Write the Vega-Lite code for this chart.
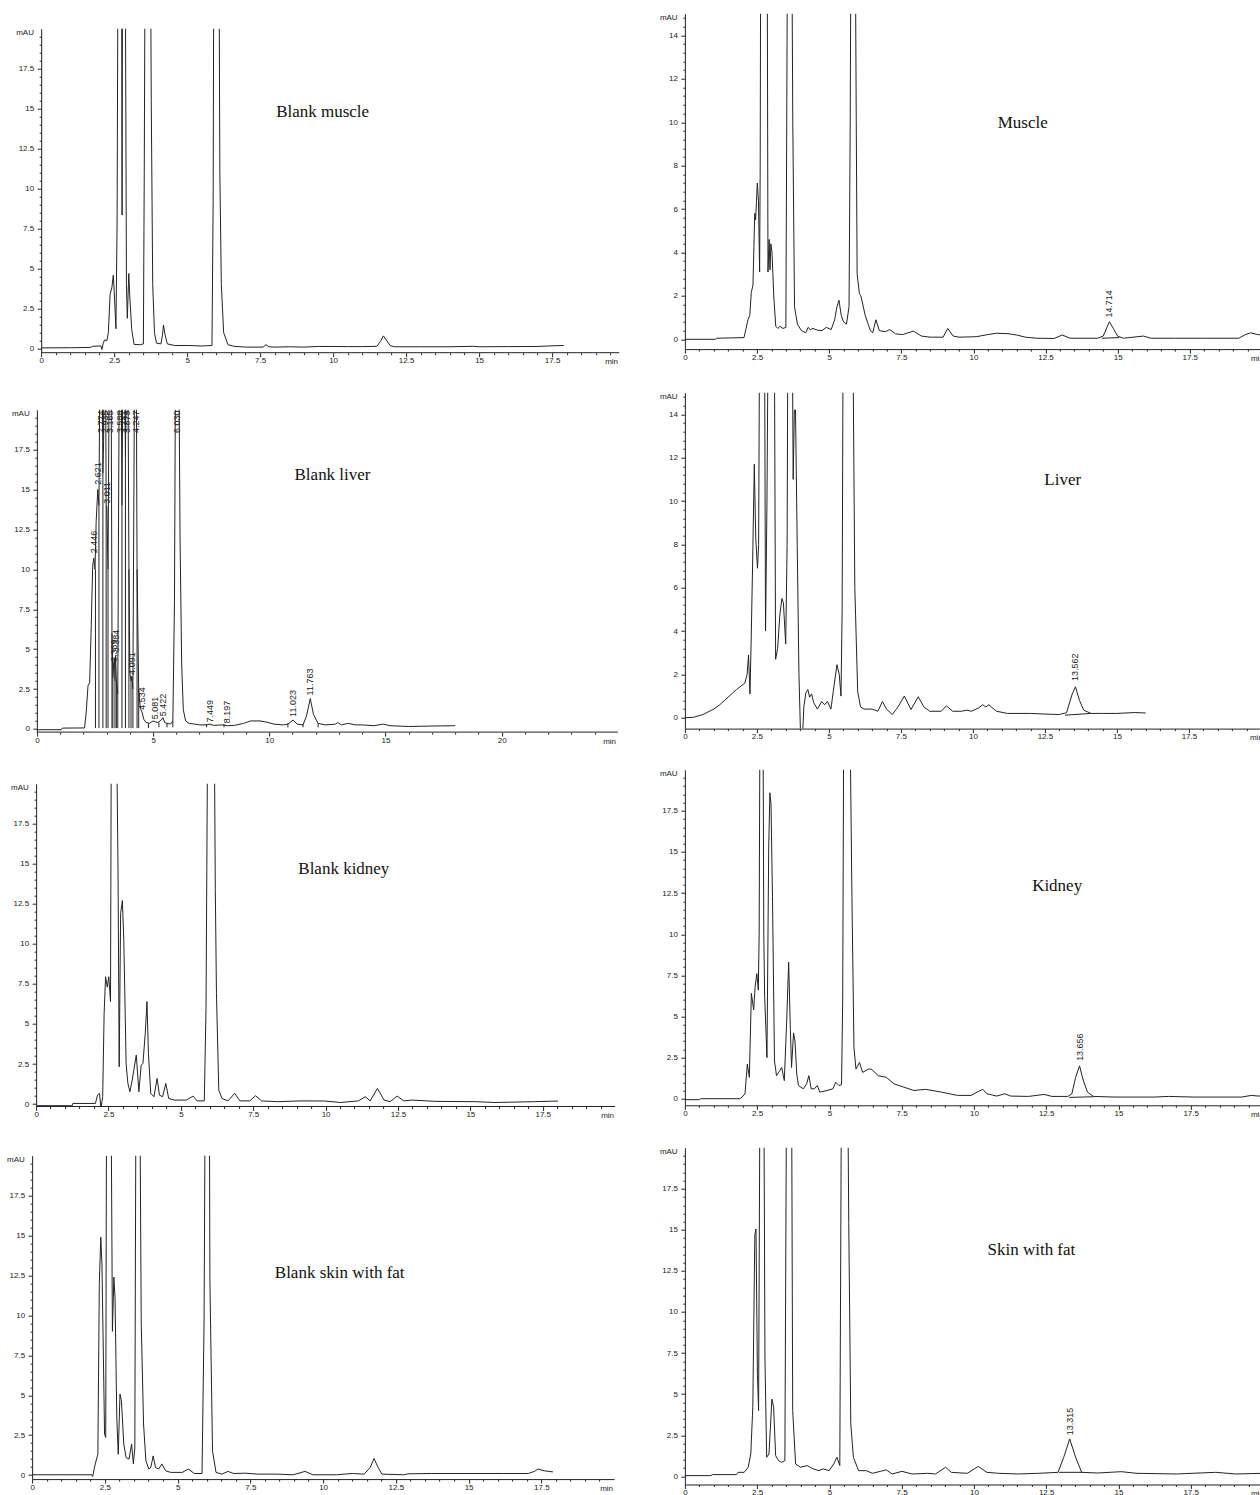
{
"$schema": "https://vega.github.io/schema/vega-lite/v6.json",
"background": "white",
"padding": {"left": 6.1, "top": 9.7, "right": 0, "bottom": 0},
"config": {
 "view": {"stroke": null},
 "axis": {"grid": false, "labelFont": "Liberation Sans", "labelFontSize": 8, "labelColor": "#222", "titleFont": "Liberation Sans", "titleFontSize": 8, "titleFontWeight": "normal", "titleColor": "#222", "domainColor": "#222", "tickColor": "#222", "labelOverlap": false, "labelFlush": false},
 "axisX": {"labelPadding": 0},
 "axisY": {"labelPadding": 3.5}
},
"datasets": {
 "bm": [{"t":0,"a":0.05},{"t":1.0,"a":0.06},{"t":1.7,"a":0.08},{"t":1.75,"a":0.15},{"t":2.05,"a":0.17},{"t":2.08,"a":-0.05},{"t":2.12,"a":0.3},{"t":2.17,"a":0.55},{"t":2.25,"a":0.5},{"t":2.3,"a":1.0},{"t":2.36,"a":3.4},{"t":2.42,"a":3.8},{"t":2.47,"a":4.6},{"t":2.5,"a":3.6},{"t":2.56,"a":1.25},{"t":2.6,"a":8},{"t":2.64,"a":30},{"t":2.75,"a":30},{"t":2.77,"a":8.35},{"t":2.79,"a":30},{"t":2.87,"a":30},{"t":2.92,"a":4},{"t":2.95,"a":1.9},{"t":3.0,"a":4.7},{"t":3.03,"a":3.4},{"t":3.1,"a":1.2},{"t":3.18,"a":0.27},{"t":3.4,"a":0.25},{"t":3.5,"a":0.3},{"t":3.53,"a":11},{"t":3.57,"a":30},{"t":3.73,"a":30},{"t":3.77,"a":15.5},{"t":3.82,"a":4},{"t":3.88,"a":1.0},{"t":3.95,"a":0.35},{"t":4.1,"a":0.3},{"t":4.15,"a":0.8},{"t":4.19,"a":1.48},{"t":4.24,"a":0.9},{"t":4.32,"a":0.3},{"t":4.57,"a":0.2},{"t":5.0,"a":0.2},{"t":5.5,"a":0.17},{"t":5.85,"a":0.2},{"t":5.89,"a":9.2},{"t":5.92,"a":30},{"t":6.08,"a":30},{"t":6.12,"a":11},{"t":6.17,"a":4},{"t":6.25,"a":1},{"t":6.4,"a":0.25},{"t":6.6,"a":0.15},{"t":7.0,"a":0.1},{"t":7.6,"a":0.1},{"t":7.7,"a":0.25},{"t":7.8,"a":0.12},{"t":8.0,"a":0.1},{"t":8.5,"a":0.12},{"t":9.0,"a":0.1},{"t":9.5,"a":0.14},{"t":10,"a":0.14},{"t":10.5,"a":0.13},{"t":11.0,"a":0.13},{"t":11.5,"a":0.15},{"t":11.62,"a":0.45},{"t":11.72,"a":0.8},{"t":11.82,"a":0.55},{"t":11.95,"a":0.2},{"t":12.1,"a":0.12},{"t":13,"a":0.12},{"t":14,"a":0.12},{"t":14.8,"a":0.15},{"t":15.0,"a":0.12},{"t":16,"a":0.13},{"t":17,"a":0.14},{"t":17.5,"a":0.18},{"t":17.9,"a":0.2}],
 "m": [{"t":0,"a":0},{"t":1.05,"a":0},{"t":1.1,"a":0.05},{"t":2.05,"a":0.08},{"t":2.12,"a":0.5},{"t":2.19,"a":0.92},{"t":2.25,"a":1.1},{"t":2.3,"a":2.15},{"t":2.36,"a":2.5},{"t":2.42,"a":5.8},{"t":2.45,"a":5.5},{"t":2.48,"a":6.3},{"t":2.51,"a":7.2},{"t":2.55,"a":6.4},{"t":2.59,"a":3.1},{"t":2.61,"a":8},{"t":2.63,"a":20},{"t":2.85,"a":20},{"t":2.88,"a":3.1},{"t":2.92,"a":4.6},{"t":2.95,"a":3.2},{"t":2.98,"a":4.4},{"t":3.02,"a":4.0},{"t":3.08,"a":2.0},{"t":3.15,"a":0.6},{"t":3.22,"a":0.5},{"t":3.3,"a":0.6},{"t":3.4,"a":0.5},{"t":3.5,"a":0.55},{"t":3.53,"a":10},{"t":3.56,"a":20},{"t":3.7,"a":20},{"t":3.74,"a":10},{"t":3.8,"a":1.5},{"t":3.9,"a":0.7},{"t":4.04,"a":0.4},{"t":4.19,"a":0.3},{"t":4.27,"a":0.55},{"t":4.35,"a":0.45},{"t":4.44,"a":0.5},{"t":4.6,"a":0.42},{"t":4.75,"a":0.4},{"t":4.9,"a":0.55},{"t":5.07,"a":0.45},{"t":5.19,"a":0.9},{"t":5.27,"a":1.5},{"t":5.34,"a":1.8},{"t":5.42,"a":1.1},{"t":5.5,"a":0.8},{"t":5.6,"a":0.7},{"t":5.69,"a":1.5},{"t":5.73,"a":10},{"t":5.76,"a":20},{"t":5.9,"a":20},{"t":5.94,"a":10},{"t":5.97,"a":3},{"t":6.05,"a":2.1},{"t":6.1,"a":2.0},{"t":6.25,"a":1.1},{"t":6.43,"a":0.4},{"t":6.51,"a":0.3},{"t":6.62,"a":0.9},{"t":6.74,"a":0.4},{"t":6.95,"a":0.35},{"t":7.1,"a":0.45},{"t":7.3,"a":0.25},{"t":7.55,"a":0.22},{"t":7.92,"a":0.38},{"t":8.2,"a":0.15},{"t":8.5,"a":0.1},{"t":8.95,"a":0.1},{"t":9.11,"a":0.5},{"t":9.3,"a":0.15},{"t":9.5,"a":0.1},{"t":10.1,"a":0.12},{"t":10.5,"a":0.22},{"t":10.8,"a":0.28},{"t":11.2,"a":0.26},{"t":11.5,"a":0.2},{"t":11.8,"a":0.1},{"t":12.2,"a":0.05},{"t":12.8,"a":0.04},{"t":13.08,"a":0.2},{"t":13.35,"a":0.05},{"t":14.3,"a":0.05},{"t":14.5,"a":0.15},{"t":14.714,"a":0.81},{"t":14.85,"a":0.5},{"t":15.0,"a":0.15},{"t":15.2,"a":0.05},{"t":15.89,"a":0.15},{"t":16.16,"a":0.05},{"t":17,"a":0.05},{"t":18,"a":0.05},{"t":19.2,"a":0.05},{"t":19.4,"a":0.2},{"t":19.6,"a":0.3},{"t":19.85,"a":0.22},{"t":20,"a":0.2}],
 "bl": [{"t":0,"a":-0.05},{"t":1.05,"a":-0.05},{"t":1.1,"a":0.05},{"t":2.05,"a":0.06},{"t":2.12,"a":1.0},{"t":2.2,"a":2.7},{"t":2.27,"a":2.9},{"t":2.33,"a":6},{"t":2.4,"a":10.2},{"t":2.446,"a":10.7},{"t":2.5,"a":10.0},{"t":2.55,"a":13},{"t":2.621,"a":15.0},{"t":2.67,"a":14},{"t":2.72,"a":25},{"t":2.8,"a":25},{"t":2.84,"a":16},{"t":2.87,"a":18},{"t":2.89,"a":25},{"t":2.95,"a":25},{"t":2.98,"a":14},{"t":3.011,"a":13.9},{"t":3.06,"a":10},{"t":3.12,"a":25},{"t":3.19,"a":25},{"t":3.23,"a":6},{"t":3.27,"a":3.2},{"t":3.31,"a":4.2},{"t":3.339,"a":4.4},{"t":3.36,"a":3.0},{"t":3.384,"a":4.6},{"t":3.42,"a":3.0},{"t":3.48,"a":2.2},{"t":3.55,"a":25},{"t":3.62,"a":25},{"t":3.66,"a":14},{"t":3.71,"a":25},{"t":3.77,"a":25},{"t":3.81,"a":17},{"t":3.85,"a":25},{"t":3.91,"a":25},{"t":3.96,"a":10},{"t":4.0,"a":3.5},{"t":4.05,"a":3.0},{"t":4.091,"a":3.3},{"t":4.13,"a":2.5},{"t":4.21,"a":25},{"t":4.27,"a":25},{"t":4.31,"a":10},{"t":4.38,"a":2.5},{"t":4.45,"a":1.3},{"t":4.534,"a":1.0},{"t":4.6,"a":0.6},{"t":4.7,"a":0.4},{"t":4.85,"a":0.35},{"t":5.0,"a":0.5},{"t":5.081,"a":0.45},{"t":5.2,"a":0.4},{"t":5.35,"a":0.55},{"t":5.422,"a":0.7},{"t":5.5,"a":0.4},{"t":5.6,"a":0.35},{"t":5.75,"a":0.3},{"t":5.85,"a":0.5},{"t":5.92,"a":8},{"t":5.97,"a":25},{"t":6.1,"a":25},{"t":6.16,"a":12},{"t":6.23,"a":4},{"t":6.3,"a":1.2},{"t":6.4,"a":0.5},{"t":6.55,"a":0.35},{"t":6.8,"a":0.3},{"t":7.0,"a":0.25},{"t":7.3,"a":0.25},{"t":7.449,"a":0.3},{"t":7.6,"a":0.22},{"t":8.0,"a":0.25},{"t":8.197,"a":0.2},{"t":8.5,"a":0.22},{"t":8.9,"a":0.35},{"t":9.2,"a":0.5},{"t":9.6,"a":0.5},{"t":9.9,"a":0.42},{"t":10.2,"a":0.3},{"t":10.6,"a":0.25},{"t":10.8,"a":0.3},{"t":11.023,"a":0.55},{"t":11.2,"a":0.3},{"t":11.45,"a":0.25},{"t":11.6,"a":0.8},{"t":11.763,"a":1.9},{"t":11.9,"a":0.9},{"t":12.1,"a":0.35},{"t":12.4,"a":0.25},{"t":12.85,"a":0.3},{"t":12.95,"a":0.4},{"t":13.1,"a":0.25},{"t":13.4,"a":0.35},{"t":13.7,"a":0.25},{"t":14.0,"a":0.25},{"t":14.5,"a":0.2},{"t":14.9,"a":0.3},{"t":15.2,"a":0.2},{"t":16.0,"a":0.15},{"t":17.0,"a":0.18},{"t":18.0,"a":0.2}],
 "l": [{"t":0,"a":0},{"t":0.3,"a":0.02},{"t":0.63,"a":0.15},{"t":1.0,"a":0.4},{"t":1.21,"a":0.6},{"t":1.5,"a":0.95},{"t":1.79,"a":1.3},{"t":2.08,"a":1.6},{"t":2.16,"a":2.0},{"t":2.21,"a":2.9},{"t":2.26,"a":1.1},{"t":2.3,"a":3.5},{"t":2.35,"a":7},{"t":2.41,"a":11.7},{"t":2.46,"a":8.3},{"t":2.52,"a":6.9},{"t":2.56,"a":8},{"t":2.6,"a":20},{"t":2.76,"a":20},{"t":2.8,"a":4.0},{"t":2.85,"a":10},{"t":2.9,"a":20},{"t":3.1,"a":20},{"t":3.15,"a":2.7},{"t":3.22,"a":3.2},{"t":3.3,"a":4.8},{"t":3.37,"a":5.5},{"t":3.42,"a":5.3},{"t":3.5,"a":3.4},{"t":3.55,"a":8},{"t":3.58,"a":20},{"t":3.72,"a":20},{"t":3.76,"a":11},{"t":3.8,"a":14.2},{"t":3.84,"a":14.2},{"t":3.9,"a":8},{"t":3.96,"a":2},{"t":4.02,"a":-1},{"t":4.08,"a":-1},{"t":4.13,"a":0.5},{"t":4.2,"a":1.15},{"t":4.27,"a":1.3},{"t":4.33,"a":0.95},{"t":4.4,"a":1.1},{"t":4.47,"a":0.7},{"t":4.6,"a":0.4},{"t":4.75,"a":0.75},{"t":4.85,"a":0.6},{"t":4.95,"a":0.75},{"t":5.07,"a":0.4},{"t":5.15,"a":1.2},{"t":5.28,"a":2.45},{"t":5.36,"a":2.0},{"t":5.42,"a":1.0},{"t":5.46,"a":5},{"t":5.5,"a":20},{"t":5.82,"a":20},{"t":5.9,"a":6},{"t":6.0,"a":1.2},{"t":6.1,"a":0.5},{"t":6.22,"a":0.4},{"t":6.5,"a":0.4},{"t":6.7,"a":0.3},{"t":6.86,"a":0.75},{"t":7.0,"a":0.4},{"t":7.2,"a":0.15},{"t":7.4,"a":0.5},{"t":7.62,"a":1.0},{"t":7.85,"a":0.38},{"t":8.1,"a":0.97},{"t":8.3,"a":0.5},{"t":8.5,"a":0.3},{"t":8.9,"a":0.3},{"t":9.08,"a":0.55},{"t":9.3,"a":0.3},{"t":9.6,"a":0.3},{"t":9.79,"a":0.35},{"t":9.95,"a":0.3},{"t":10.2,"a":0.45},{"t":10.34,"a":0.6},{"t":10.45,"a":0.5},{"t":10.55,"a":0.6},{"t":10.82,"a":0.3},{"t":11.2,"a":0.2},{"t":12.0,"a":0.2},{"t":12.5,"a":0.17},{"t":13.0,"a":0.15},{"t":13.25,"a":0.23},{"t":13.45,"a":1.1},{"t":13.562,"a":1.43},{"t":13.7,"a":0.8},{"t":13.85,"a":0.35},{"t":14.1,"a":0.2},{"t":14.5,"a":0.2},{"t":15.0,"a":0.2},{"t":15.6,"a":0.24},{"t":16.0,"a":0.22}],
 "bk": [{"t":0,"a":-0.1},{"t":1.25,"a":-0.1},{"t":1.27,"a":0.04},{"t":2.05,"a":0.04},{"t":2.12,"a":0.56},{"t":2.19,"a":0.67},{"t":2.24,"a":-0.27},{"t":2.3,"a":0.46},{"t":2.35,"a":5.66},{"t":2.4,"a":7.95},{"t":2.46,"a":7.3},{"t":2.51,"a":7.95},{"t":2.57,"a":6.4},{"t":2.6,"a":25},{"t":2.77,"a":25},{"t":2.83,"a":14.6},{"t":2.87,"a":2.33},{"t":2.92,"a":11.9},{"t":2.98,"a":12.7},{"t":3.03,"a":10.2},{"t":3.11,"a":2.5},{"t":3.17,"a":1.3},{"t":3.24,"a":0.77},{"t":3.32,"a":1.5},{"t":3.46,"a":3.06},{"t":3.55,"a":0.77},{"t":3.63,"a":2.43},{"t":3.69,"a":2.54},{"t":3.77,"a":4.4},{"t":3.83,"a":6.4},{"t":3.88,"a":3.16},{"t":3.96,"a":0.67},{"t":4.07,"a":0.46},{"t":4.18,"a":1.6},{"t":4.26,"a":0.56},{"t":4.37,"a":0.46},{"t":4.48,"a":1.29},{"t":4.58,"a":0.35},{"t":4.78,"a":0.25},{"t":5.19,"a":0.25},{"t":5.42,"a":0.5},{"t":5.56,"a":0.2},{"t":5.81,"a":0.2},{"t":5.87,"a":6.1},{"t":5.93,"a":25},{"t":6.15,"a":25},{"t":6.19,"a":13.4},{"t":6.23,"a":6.9},{"t":6.31,"a":0.87},{"t":6.42,"a":0.35},{"t":6.63,"a":0.2},{"t":6.86,"a":0.67},{"t":7.04,"a":0.2},{"t":7.38,"a":0.2},{"t":7.58,"a":0.52},{"t":7.79,"a":0.2},{"t":8.33,"a":0.15},{"t":9.15,"a":0.2},{"t":9.97,"a":0.19},{"t":10.52,"a":0.1},{"t":11.13,"a":0.2},{"t":11.37,"a":0.46},{"t":11.54,"a":0.2},{"t":11.79,"a":0.98},{"t":12.02,"a":0.25},{"t":12.23,"a":0.15},{"t":12.47,"a":0.5},{"t":12.7,"a":0.2},{"t":12.98,"a":0.25},{"t":13.8,"a":0.17},{"t":15.16,"a":0.15},{"t":15.85,"a":0.1},{"t":17.21,"a":0.15},{"t":18.03,"a":0.19}],
 "k": [{"t":0,"a":-0.06},{"t":0.5,"a":-0.06},{"t":0.55,"a":0.0},{"t":1.9,"a":0.0},{"t":1.98,"a":0.1},{"t":2.08,"a":0.3},{"t":2.16,"a":2.1},{"t":2.23,"a":1.3},{"t":2.3,"a":6.4},{"t":2.38,"a":5.4},{"t":2.43,"a":6.8},{"t":2.49,"a":7.6},{"t":2.54,"a":6.6},{"t":2.57,"a":10},{"t":2.6,"a":25},{"t":2.7,"a":25},{"t":2.73,"a":10},{"t":2.76,"a":6.2},{"t":2.84,"a":2.5},{"t":2.9,"a":15.3},{"t":2.94,"a":18.6},{"t":2.98,"a":17.9},{"t":3.03,"a":12.3},{"t":3.1,"a":2.3},{"t":3.17,"a":1.4},{"t":3.28,"a":1.7},{"t":3.35,"a":1.9},{"t":3.44,"a":1.1},{"t":3.52,"a":4.6},{"t":3.59,"a":8.3},{"t":3.65,"a":4.2},{"t":3.69,"a":1.9},{"t":3.76,"a":4.0},{"t":3.81,"a":3.5},{"t":3.87,"a":1.5},{"t":3.93,"a":0.8},{"t":4.1,"a":0.6},{"t":4.21,"a":0.9},{"t":4.29,"a":1.4},{"t":4.37,"a":0.6},{"t":4.48,"a":0.6},{"t":4.58,"a":0.8},{"t":4.67,"a":0.4},{"t":4.92,"a":0.5},{"t":5.12,"a":0.6},{"t":5.22,"a":1.0},{"t":5.33,"a":0.8},{"t":5.42,"a":0.85},{"t":5.46,"a":6},{"t":5.5,"a":25},{"t":5.7,"a":25},{"t":5.78,"a":12.3},{"t":5.85,"a":3.1},{"t":5.92,"a":1.8},{"t":6.04,"a":2.2},{"t":6.15,"a":1.6},{"t":6.35,"a":1.8},{"t":6.45,"a":1.8},{"t":6.69,"a":1.4},{"t":6.97,"a":1.3},{"t":7.24,"a":0.9},{"t":7.58,"a":0.7},{"t":7.92,"a":0.5},{"t":8.33,"a":0.57},{"t":8.88,"a":0.4},{"t":9.43,"a":0.2},{"t":9.9,"a":0.2},{"t":10.11,"a":0.4},{"t":10.31,"a":0.57},{"t":10.45,"a":0.3},{"t":10.79,"a":0.16},{"t":11.07,"a":0.3},{"t":11.27,"a":0.16},{"t":11.89,"a":0.14},{"t":12.43,"a":0.26},{"t":12.7,"a":0.14},{"t":13.25,"a":0.14},{"t":13.39,"a":0.3},{"t":13.52,"a":1.3},{"t":13.656,"a":2.0},{"t":13.77,"a":1.2},{"t":13.93,"a":0.4},{"t":14.14,"a":0.14},{"t":14.89,"a":0.1},{"t":16.26,"a":0.1},{"t":16.73,"a":0.14},{"t":17.62,"a":0.1},{"t":19.26,"a":0.1},{"t":19.6,"a":0.2},{"t":20,"a":0.14}],
 "bs": [{"t":0,"a":0.02},{"t":2.05,"a":0.02},{"t":2.08,"a":-0.08},{"t":2.17,"a":0.7},{"t":2.26,"a":1.3},{"t":2.31,"a":12},{"t":2.36,"a":14.9},{"t":2.4,"a":13.2},{"t":2.45,"a":7.4},{"t":2.49,"a":2.57},{"t":2.53,"a":2.36},{"t":2.56,"a":25},{"t":2.71,"a":25},{"t":2.76,"a":9.0},{"t":2.81,"a":12.4},{"t":2.85,"a":11.1},{"t":2.91,"a":3.6},{"t":2.96,"a":1.3},{"t":3.02,"a":5.07},{"t":3.07,"a":4.65},{"t":3.15,"a":1.94},{"t":3.23,"a":1.1},{"t":3.33,"a":1.0},{"t":3.42,"a":1.94},{"t":3.48,"a":0.7},{"t":3.53,"a":1.7},{"t":3.57,"a":25},{"t":3.7,"a":25},{"t":3.75,"a":9.5},{"t":3.83,"a":3.2},{"t":3.91,"a":0.9},{"t":4.01,"a":0.38},{"t":4.08,"a":0.48},{"t":4.16,"a":1.2},{"t":4.24,"a":0.48},{"t":4.35,"a":0.38},{"t":4.46,"a":0.7},{"t":4.59,"a":0.27},{"t":4.76,"a":0.17},{"t":5.16,"a":0.17},{"t":5.37,"a":0.38},{"t":5.57,"a":0.1},{"t":5.84,"a":0.1},{"t":5.91,"a":9.7},{"t":5.95,"a":25},{"t":6.09,"a":25},{"t":6.11,"a":12.2},{"t":6.2,"a":1.5},{"t":6.32,"a":0.17},{"t":6.52,"a":0.06},{"t":6.73,"a":0.23},{"t":6.93,"a":0.1},{"t":7.34,"a":0.12},{"t":7.74,"a":0.06},{"t":8.42,"a":0.06},{"t":8.97,"a":0.02},{"t":9.38,"a":0.23},{"t":9.65,"a":0.02},{"t":10.46,"a":0.02},{"t":11.0,"a":0.1},{"t":11.41,"a":0.06},{"t":11.62,"a":0.48},{"t":11.75,"a":1.04},{"t":11.89,"a":0.48},{"t":12.02,"a":0.06},{"t":12.77,"a":0.02},{"t":12.91,"a":0.08},{"t":13.72,"a":0.1},{"t":14.67,"a":0.1},{"t":16.17,"a":0.1},{"t":17.05,"a":0.1},{"t":17.26,"a":0.23},{"t":17.39,"a":0.38},{"t":17.6,"a":0.27},{"t":17.9,"a":0.2}],
 "s": [{"t":0,"a":0.04},{"t":0.9,"a":0.04},{"t":0.95,"a":0.1},{"t":1.78,"a":0.1},{"t":1.84,"a":0.24},{"t":2.05,"a":0.24},{"t":2.19,"a":0.55},{"t":2.28,"a":1.36},{"t":2.35,"a":4.2},{"t":2.42,"a":14.7},{"t":2.46,"a":15.05},{"t":2.51,"a":6.2},{"t":2.55,"a":4.0},{"t":2.6,"a":25},{"t":2.73,"a":25},{"t":2.77,"a":7.2},{"t":2.83,"a":1.16},{"t":2.91,"a":1.36},{"t":3.01,"a":4.7},{"t":3.07,"a":4.2},{"t":3.14,"a":1.26},{"t":3.24,"a":0.95},{"t":3.35,"a":0.85},{"t":3.46,"a":0.95},{"t":3.52,"a":25},{"t":3.69,"a":25},{"t":3.73,"a":4.0},{"t":3.83,"a":0.75},{"t":4.0,"a":0.55},{"t":4.23,"a":0.65},{"t":4.44,"a":0.45},{"t":4.64,"a":0.34},{"t":4.78,"a":0.45},{"t":4.99,"a":0.34},{"t":5.15,"a":0.75},{"t":5.26,"a":1.16},{"t":5.36,"a":0.65},{"t":5.42,"a":25},{"t":5.63,"a":25},{"t":5.67,"a":15.4},{"t":5.74,"a":3.2},{"t":5.83,"a":1.16},{"t":6.01,"a":0.34},{"t":6.28,"a":0.34},{"t":6.49,"a":0.18},{"t":6.76,"a":0.3},{"t":6.97,"a":0.39},{"t":7.17,"a":0.14},{"t":7.51,"a":0.3},{"t":7.86,"a":0.14},{"t":8.4,"a":0.18},{"t":8.67,"a":0.14},{"t":9.02,"a":0.55},{"t":9.22,"a":0.24},{"t":9.77,"a":0.18},{"t":10.15,"a":0.6},{"t":10.45,"a":0.24},{"t":10.86,"a":0.18},{"t":11.54,"a":0.14},{"t":12.23,"a":0.18},{"t":12.91,"a":0.24},{"t":13.11,"a":1.16},{"t":13.315,"a":2.27},{"t":13.52,"a":1.16},{"t":13.73,"a":0.24},{"t":14.28,"a":0.2},{"t":15.1,"a":0.28},{"t":15.64,"a":0.18},{"t":17.01,"a":0.14},{"t":18.37,"a":0.24},{"t":19.06,"a":0.14},{"t":20,"a":0.18}]
},
"hconcat": [
 {"vconcat": [
  {"width": 1, "height": 16.3, "data": {"values": [{"k": 0}]}, "mark": {"type": "point", "opacity": 0}, "encoding": {}},
  {"width": 587.1, "height": 324, "data": {"name": "bm"},
   "resolve": {"axis": {"x": "independent", "y": "independent"}},
   "layer": [
    {"mark": {"type": "line", "clip": true, "color": "#222", "strokeWidth": 1},
     "encoding": {
      "x": {"field": "t", "type": "quantitative", "scale": {"domain": [-0.3119, 19.8], "nice": false, "zero": false}, "axis": {"orient": "bottom", "values": [0,2.5,5,7.5,10,12.5,15,17.5], "format": ".3~g", "tickSize": 4, "domain": false, "title": "min", "titleX": 579, "titleY": 9, "titleAlign": "center", "titleBaseline": "middle"}},
      "y": {"field": "a", "type": "quantitative", "scale": {"domain": [-0.25, 20], "nice": false, "zero": false}, "axis": {"orient": "left", "offset": -9.1, "values": [0,2.5,5,7.5,10,12.5,15,17.5], "format": ".3~g", "tickSize": 4, "title": "mAU", "titleAngle": 0, "titleX": -25.5, "titleY": 4, "titleAlign": "left", "titleBaseline": "middle"}}}},
    {"mark": {"type": "point", "opacity": 0, "clip": true},
     "encoding": {
      "x": {"field": "t", "type": "quantitative", "axis": {"orient": "bottom", "values": [0.5,1,1.5,2,3,3.5,4,4.5,5.5,6,6.5,7,8,8.5,9,9.5,10.5,11,11.5,12,13,13.5,14,14.5,15.5,16,16.5,17,18,18.5,19,19.5], "labels": false, "tickSize": 2, "domain": false, "title": null}},
      "y": {"field": "a", "type": "quantitative", "axis": {"orient": "left", "offset": -9.1, "values": [0.5,1,1.5,2,3,3.5,4,4.5,5.5,6,6.5,7,8,8.5,9,9.5,10.5,11,11.5,12,13,13.5,14,14.5,15.5,16,16.5,17,18,18.5,19,19.5], "labels": false, "tickSize": 2, "domain": false, "title": null}}}},
    {"data": {"values": [{"t": 0, "t2": 19.8, "a": -0.25}]},
     "mark": {"type": "rule", "color": "#222", "strokeWidth": 1},
     "encoding": {"x": {"field": "t", "type": "quantitative", "axis": null}, "x2": {"field": "t2"}, "y": {"field": "a", "type": "quantitative", "axis": null}}},
    {"data": {"values": [{"t": 9.64, "a": 14.77, "txt": "Blank muscle"}]},
     "mark": {"type": "text", "font": "Liberation Serif", "fontSize": 17, "color": "#111"},
     "encoding": {"x": {"field": "t", "type": "quantitative", "axis": null}, "y": {"field": "a", "type": "quantitative", "axis": null}, "text": {"field": "txt"}}}
   ]},
  {"width": 1, "height": 56.7, "data": {"values": [{"k": 0}]}, "mark": {"type": "point", "opacity": 0}, "encoding": {}},
  {"width": 585.8, "height": 322.4, "data": {"name": "bl"},
   "resolve": {"axis": {"x": "independent", "y": "independent"}},
   "layer": [
    {"mark": {"type": "line", "clip": true, "color": "#222", "strokeWidth": 1},
     "encoding": {
      "x": {"field": "t", "type": "quantitative", "scale": {"domain": [-0.2065, 25], "nice": false, "zero": false}, "axis": {"orient": "bottom", "values": [0,5,10,15,20], "format": ".3~g", "tickSize": 4, "domain": false, "title": "min", "titleX": 577, "titleY": 9, "titleAlign": "center", "titleBaseline": "middle"}},
      "y": {"field": "a", "type": "quantitative", "scale": {"domain": [-0.2, 20], "nice": false, "zero": false}, "axis": {"orient": "left", "offset": -4.8, "values": [0,2.5,5,7.5,10,12.5,15,17.5], "format": ".3~g", "tickSize": 4, "title": "mAU", "titleAngle": 0, "titleX": -25.5, "titleY": 4, "titleAlign": "left", "titleBaseline": "middle"}}}},
    {"mark": {"type": "point", "opacity": 0, "clip": true},
     "encoding": {
      "x": {"field": "t", "type": "quantitative", "axis": {"orient": "bottom", "values": [1,2,3,4,6,7,8,9,11,12,13,14,16,17,18,19,21,22,23,24], "labels": false, "tickSize": 2, "domain": false, "title": null}},
      "y": {"field": "a", "type": "quantitative", "axis": {"orient": "left", "offset": -4.8, "values": [0.5,1,1.5,2,3,3.5,4,4.5,5.5,6,6.5,7,8,8.5,9,9.5,10.5,11,11.5,12,13,13.5,14,14.5,15.5,16,16.5,17,18,18.5,19,19.5], "labels": false, "tickSize": 2, "domain": false, "title": null}}}},
    {"data": {"values": [{"t": 0, "t2": 25, "a": -0.2}]},
     "mark": {"type": "rule", "color": "#222", "strokeWidth": 1},
     "encoding": {"x": {"field": "t", "type": "quantitative", "axis": null}, "x2": {"field": "t2"}, "y": {"field": "a", "type": "quantitative", "axis": null}}},
    {"data": {"values": [{"t":2.52,"a":0.05,"b":10.0},{"t":2.67,"a":0.05,"b":14},{"t":2.84,"a":0.05,"b":16},{"t":2.98,"a":0.05,"b":14},{"t":3.06,"a":0.05,"b":10},{"t":3.23,"a":0.05,"b":6},{"t":3.27,"a":0.05,"b":3.2},{"t":3.36,"a":0.05,"b":3.0},{"t":3.42,"a":0.05,"b":3.0},{"t":3.48,"a":0.05,"b":2.2},{"t":3.66,"a":0.05,"b":14},{"t":3.81,"a":0.05,"b":17},{"t":3.96,"a":0.05,"b":10},{"t":4.05,"a":0.05,"b":3.0},{"t":4.13,"a":0.05,"b":2.5},{"t":4.31,"a":0.05,"b":10},{"t":4.38,"a":0.05,"b":2.5},{"t":4.8,"a":0.05,"b":0.35},{"t":5.25,"a":0.1,"b":0.4},{"t":5.6,"a":0.1,"b":0.35},{"t":5.85,"a":0.1,"b":0.5},{"t":7.3,"a":0.1,"b":0.3},{"t":8.05,"a":0.1,"b":0.3},{"t":10.8,"a":0.1,"b":0.35},{"t":11.45,"a":0.1,"b":0.3},{"t":12.1,"a":0.1,"b":0.35}]},
     "mark": {"type": "rule", "clip": true, "color": "#222", "strokeWidth": 1},
     "encoding": {"x": {"field": "t", "type": "quantitative", "axis": null}, "y": {"field": "a", "type": "quantitative", "axis": null}, "y2": {"field": "b"}}},
    {"data": {"values": [{"t":2.446,"a":11.0,"txt":"2.446"},{"t":2.621,"a":15.3,"txt":"2.621"},{"t":3.011,"a":14.1,"txt":"3.011"},{"t":3.339,"a":4.2,"txt":"3.339"},{"t":3.384,"a":4.8,"txt":"3.384"},{"t":4.091,"a":3.4,"txt":"4.091"},{"t":4.534,"a":1.2,"txt":"4.534"},{"t":5.081,"a":0.6,"txt":"5.081"},{"t":5.422,"a":0.8,"txt":"5.422"},{"t":7.449,"a":0.4,"txt":"7.449"},{"t":8.197,"a":0.35,"txt":"8.197"},{"t":11.023,"a":0.75,"txt":"11.023"},{"t":11.763,"a":2.1,"txt":"11.763"}]},
     "mark": {"type": "text", "angle": 270, "align": "left", "baseline": "middle", "font": "Liberation Sans", "fontSize": 9, "color": "#222"},
     "encoding": {"x": {"field": "t", "type": "quantitative", "axis": null}, "y": {"field": "a", "type": "quantitative", "axis": null}, "text": {"field": "txt"}}},
    {"data": {"values": [{"t":2.774,"a":19.95,"txt":"2.774"},{"t":2.935,"a":19.95,"txt":"2.935"},{"t":3.165,"a":19.95,"txt":"3.165"},{"t":3.588,"a":19.95,"txt":"3.588"},{"t":3.741,"a":19.95,"txt":"3.741"},{"t":3.879,"a":19.95,"txt":"3.879"},{"t":4.247,"a":19.95,"txt":"4.247"},{"t":6.03,"a":19.95,"txt":"6.030"}]},
     "mark": {"type": "text", "angle": 270, "align": "right", "baseline": "middle", "font": "Liberation Sans", "fontSize": 9, "color": "#222"},
     "encoding": {"x": {"field": "t", "type": "quantitative", "axis": null}, "y": {"field": "a", "type": "quantitative", "axis": null}, "text": {"field": "txt"}}},
    {"data": {"values": [{"t": 12.72, "a": 15.89, "txt": "Blank liver"}]},
     "mark": {"type": "text", "font": "Liberation Serif", "fontSize": 17, "color": "#111"},
     "encoding": {"x": {"field": "t", "type": "quantitative", "axis": null}, "y": {"field": "a", "type": "quantitative", "axis": null}, "text": {"field": "txt"}}}
   ]},
  {"width": 1, "height": 50.9, "data": {"values": [{"k": 0}]}, "mark": {"type": "point", "opacity": 0}, "encoding": {}},
  {"width": 583, "height": 322.8, "data": {"name": "bk"},
   "resolve": {"axis": {"x": "independent", "y": "independent"}},
   "layer": [
    {"mark": {"type": "line", "clip": true, "color": "#222", "strokeWidth": 1},
     "encoding": {
      "x": {"field": "t", "type": "quantitative", "scale": {"domain": [-0.1382, 20], "nice": false, "zero": false}, "axis": {"orient": "bottom", "values": [0,2.5,5,7.5,10,12.5,15,17.5], "format": ".3~g", "tickSize": 4, "domain": false, "title": "min", "titleX": 575, "titleY": 9, "titleAlign": "center", "titleBaseline": "middle"}},
      "y": {"field": "a", "type": "quantitative", "scale": {"domain": [-0.15, 20], "nice": false, "zero": false}, "axis": {"orient": "left", "offset": -4.0, "values": [0,2.5,5,7.5,10,12.5,15,17.5], "format": ".3~g", "tickSize": 4, "title": "mAU", "titleAngle": 0, "titleX": -25.5, "titleY": 4, "titleAlign": "left", "titleBaseline": "middle"}}}},
    {"mark": {"type": "point", "opacity": 0, "clip": true},
     "encoding": {
      "x": {"field": "t", "type": "quantitative", "axis": {"orient": "bottom", "values": [0.5,1,1.5,2,3,3.5,4,4.5,5.5,6,6.5,7,8,8.5,9,9.5,10.5,11,11.5,12,13,13.5,14,14.5,15.5,16,16.5,17,18,18.5,19,19.5], "labels": false, "tickSize": 2, "domain": false, "title": null}},
      "y": {"field": "a", "type": "quantitative", "axis": {"orient": "left", "offset": -4.0, "values": [0.5,1,1.5,2,3,3.5,4,4.5,5.5,6,6.5,7,8,8.5,9,9.5,10.5,11,11.5,12,13,13.5,14,14.5,15.5,16,16.5,17,18,18.5,19,19.5], "labels": false, "tickSize": 2, "domain": false, "title": null}}}},
    {"data": {"values": [{"t": 0, "t2": 20, "a": -0.15}]},
     "mark": {"type": "rule", "color": "#222", "strokeWidth": 1},
     "encoding": {"x": {"field": "t", "type": "quantitative", "axis": null}, "x2": {"field": "t2"}, "y": {"field": "a", "type": "quantitative", "axis": null}}},
    {"data": {"values": [{"t": 10.63, "a": 14.65, "txt": "Blank kidney"}]},
     "mark": {"type": "text", "font": "Liberation Serif", "fontSize": 17, "color": "#111"},
     "encoding": {"x": {"field": "t", "type": "quantitative", "axis": null}, "y": {"field": "a", "type": "quantitative", "axis": null}, "text": {"field": "txt"}}}
   ]},
  {"width": 1, "height": 48.9, "data": {"values": [{"k": 0}]}, "mark": {"type": "point", "opacity": 0}, "encoding": {}},
  {"width": 582, "height": 323.4, "data": {"name": "bs"},
   "resolve": {"axis": {"x": "independent", "y": "independent"}},
   "layer": [
    {"mark": {"type": "line", "clip": true, "color": "#222", "strokeWidth": 1},
     "encoding": {
      "x": {"field": "t", "type": "quantitative", "scale": {"domain": [0, 20], "nice": false, "zero": false}, "axis": {"orient": "bottom", "values": [0,2.5,5,7.5,10,12.5,15,17.5], "format": ".3~g", "tickSize": 4, "title": "min", "titleX": 574, "titleY": 9, "titleAlign": "center", "titleBaseline": "middle"}},
      "y": {"field": "a", "type": "quantitative", "scale": {"domain": [-0.25, 20], "nice": false, "zero": false}, "axis": {"orient": "left", "values": [0,2.5,5,7.5,10,12.5,15,17.5], "format": ".3~g", "tickSize": 4, "title": "mAU", "titleAngle": 0, "titleX": -25.5, "titleY": 4, "titleAlign": "left", "titleBaseline": "middle"}}}},
    {"mark": {"type": "point", "opacity": 0, "clip": true},
     "encoding": {
      "x": {"field": "t", "type": "quantitative", "axis": {"orient": "bottom", "values": [0.5,1,1.5,2,3,3.5,4,4.5,5.5,6,6.5,7,8,8.5,9,9.5,10.5,11,11.5,12,13,13.5,14,14.5,15.5,16,16.5,17,18,18.5,19,19.5], "labels": false, "tickSize": 2, "domain": false, "title": null}},
      "y": {"field": "a", "type": "quantitative", "axis": {"orient": "left", "values": [0.5,1,1.5,2,3,3.5,4,4.5,5.5,6,6.5,7,8,8.5,9,9.5,10.5,11,11.5,12,13,13.5,14,14.5,15.5,16,16.5,17,18,18.5,19,19.5], "labels": false, "tickSize": 2, "domain": false, "title": null}}}},
    {"data": {"values": [{"t": 10.57, "a": 12.63, "txt": "Blank skin with fat"}]},
     "mark": {"type": "text", "font": "Liberation Serif", "fontSize": 17, "color": "#111"},
     "encoding": {"x": {"field": "t", "type": "quantitative", "axis": null}, "y": {"field": "a", "type": "quantitative", "axis": null}, "text": {"field": "txt"}}}
   ]}
 ], "spacing": 0, "bounds": "flush"},
 {"vconcat": [
  {"width": 1, "height": 2, "data": {"values": [{"k": 0}]}, "mark": {"type": "point", "opacity": 0}, "encoding": {}},
  {"width": 577, "height": 335.4, "data": {"name": "m"},
   "resolve": {"axis": {"x": "independent", "y": "independent"}},
   "layer": [
    {"mark": {"type": "line", "clip": true, "color": "#222", "strokeWidth": 1},
     "encoding": {
      "x": {"field": "t", "type": "quantitative", "scale": {"domain": [0, 20], "nice": false, "zero": false}, "axis": {"orient": "bottom", "values": [0,2.5,5,7.5,10,12.5,15,17.5], "format": ".3~g", "tickSize": 4, "title": "min", "titleX": 572, "titleY": 9, "titleAlign": "center", "titleBaseline": "middle"}},
      "y": {"field": "a", "type": "quantitative", "scale": {"domain": [-0.45, 15], "nice": false, "zero": false}, "axis": {"orient": "left", "values": [0,2,4,6,8,10,12,14], "format": ".3~g", "tickSize": 4, "title": "mAU", "titleAngle": 0, "titleX": -25.5, "titleY": 4, "titleAlign": "left", "titleBaseline": "middle"}}}},
    {"mark": {"type": "point", "opacity": 0, "clip": true},
     "encoding": {
      "x": {"field": "t", "type": "quantitative", "axis": {"orient": "bottom", "values": [0.5,1,1.5,2,3,3.5,4,4.5,5.5,6,6.5,7,8,8.5,9,9.5,10.5,11,11.5,12,13,13.5,14,14.5,15.5,16,16.5,17,18,18.5,19,19.5], "labels": false, "tickSize": 2, "domain": false, "title": null}},
      "y": {"field": "a", "type": "quantitative", "axis": {"orient": "left", "values": [0.4,0.8,1.2,1.6,2.4,2.8,3.2,3.6,4.4,4.8,5.2,5.6,6.4,6.8,7.2,7.6,8.4,8.8,9.2,9.6,10.4,10.8,11.2,11.6,12.4,12.8,13.2,13.6,14.4,14.8], "labels": false, "tickSize": 2, "domain": false, "title": null}}}},
    {"data": {"values": [{"t":14.45,"a":0.05,"t2":15.05,"a2":0.08}]},
     "mark": {"type": "rule", "color": "#222", "strokeWidth": 1},
     "encoding": {"x": {"field": "t", "type": "quantitative", "axis": null}, "y": {"field": "a", "type": "quantitative", "axis": null}, "x2": {"field": "t2"}, "y2": {"field": "a2"}}},
    {"data": {"values": [{"t": 14.714, "a": 1.0, "txt": "14.714"}]},
     "mark": {"type": "text", "angle": 270, "align": "left", "baseline": "middle", "font": "Liberation Sans", "fontSize": 9, "color": "#222"},
     "encoding": {"x": {"field": "t", "type": "quantitative", "axis": null}, "y": {"field": "a", "type": "quantitative", "axis": null}, "text": {"field": "txt"}}},
    {"data": {"values": [{"t": 11.71, "a": 9.98, "txt": "Muscle"}]},
     "mark": {"type": "text", "font": "Liberation Serif", "fontSize": 17, "color": "#111"},
     "encoding": {"x": {"field": "t", "type": "quantitative", "axis": null}, "y": {"field": "a", "type": "quantitative", "axis": null}, "text": {"field": "txt"}}}
   ]},
  {"width": 1, "height": 42.9, "data": {"values": [{"k": 0}]}, "mark": {"type": "point", "opacity": 0}, "encoding": {}},
  {"width": 576, "height": 335.9, "data": {"name": "l"},
   "resolve": {"axis": {"x": "independent", "y": "independent"}},
   "layer": [
    {"mark": {"type": "line", "clip": true, "color": "#222", "strokeWidth": 1},
     "encoding": {
      "x": {"field": "t", "type": "quantitative", "scale": {"domain": [0, 20], "nice": false, "zero": false}, "axis": {"orient": "bottom", "values": [0,2.5,5,7.5,10,12.5,15,17.5], "format": ".3~g", "tickSize": 4, "title": "min", "titleX": 571, "titleY": 9, "titleAlign": "center", "titleBaseline": "middle"}},
      "y": {"field": "a", "type": "quantitative", "scale": {"domain": [-0.5, 15], "nice": false, "zero": false}, "axis": {"orient": "left", "values": [0,2,4,6,8,10,12,14], "format": ".3~g", "tickSize": 4, "title": "mAU", "titleAngle": 0, "titleX": -25.5, "titleY": 4, "titleAlign": "left", "titleBaseline": "middle"}}}},
    {"mark": {"type": "point", "opacity": 0, "clip": true},
     "encoding": {
      "x": {"field": "t", "type": "quantitative", "axis": {"orient": "bottom", "values": [0.5,1,1.5,2,3,3.5,4,4.5,5.5,6,6.5,7,8,8.5,9,9.5,10.5,11,11.5,12,13,13.5,14,14.5,15.5,16,16.5,17,18,18.5,19,19.5], "labels": false, "tickSize": 2, "domain": false, "title": null}},
      "y": {"field": "a", "type": "quantitative", "axis": {"orient": "left", "values": [0.4,0.8,1.2,1.6,2.4,2.8,3.2,3.6,4.4,4.8,5.2,5.6,6.4,6.8,7.2,7.6,8.4,8.8,9.2,9.6,10.4,10.8,11.2,11.6,12.4,12.8,13.2,13.6,14.4,14.8], "labels": false, "tickSize": 2, "domain": false, "title": null}}}},
    {"data": {"values": [{"t":13.2,"a":0.12,"t2":14.1,"a2":0.2}]},
     "mark": {"type": "rule", "color": "#222", "strokeWidth": 1},
     "encoding": {"x": {"field": "t", "type": "quantitative", "axis": null}, "y": {"field": "a", "type": "quantitative", "axis": null}, "x2": {"field": "t2"}, "y2": {"field": "a2"}}},
    {"data": {"values": [{"t": 13.562, "a": 1.7, "txt": "13.562"}]},
     "mark": {"type": "text", "angle": 270, "align": "left", "baseline": "middle", "font": "Liberation Sans", "fontSize": 9, "color": "#222"},
     "encoding": {"x": {"field": "t", "type": "quantitative", "axis": null}, "y": {"field": "a", "type": "quantitative", "axis": null}, "text": {"field": "txt"}}},
    {"data": {"values": [{"t": 13.12, "a": 10.97, "txt": "Liver"}]},
     "mark": {"type": "text", "font": "Liberation Serif", "fontSize": 17, "color": "#111"},
     "encoding": {"x": {"field": "t", "type": "quantitative", "axis": null}, "y": {"field": "a", "type": "quantitative", "axis": null}, "text": {"field": "txt"}}}
   ]},
  {"width": 1, "height": 40.1, "data": {"values": [{"k": 0}]}, "mark": {"type": "point", "opacity": 0}, "encoding": {}},
  {"width": 578, "height": 335.6, "data": {"name": "k"},
   "resolve": {"axis": {"x": "independent", "y": "independent"}},
   "layer": [
    {"mark": {"type": "line", "clip": true, "color": "#222", "strokeWidth": 1},
     "encoding": {
      "x": {"field": "t", "type": "quantitative", "scale": {"domain": [0, 20], "nice": false, "zero": false}, "axis": {"orient": "bottom", "values": [0,2.5,5,7.5,10,12.5,15,17.5], "format": ".3~g", "tickSize": 4, "title": "min", "titleX": 572, "titleY": 9, "titleAlign": "center", "titleBaseline": "middle"}},
      "y": {"field": "a", "type": "quantitative", "scale": {"domain": [-0.4, 20], "nice": false, "zero": false}, "axis": {"orient": "left", "values": [0,2.5,5,7.5,10,12.5,15,17.5], "format": ".3~g", "tickSize": 4, "title": "mAU", "titleAngle": 0, "titleX": -25.5, "titleY": 4, "titleAlign": "left", "titleBaseline": "middle"}}}},
    {"mark": {"type": "point", "opacity": 0, "clip": true},
     "encoding": {
      "x": {"field": "t", "type": "quantitative", "axis": {"orient": "bottom", "values": [0.5,1,1.5,2,3,3.5,4,4.5,5.5,6,6.5,7,8,8.5,9,9.5,10.5,11,11.5,12,13,13.5,14,14.5,15.5,16,16.5,17,18,18.5,19,19.5], "labels": false, "tickSize": 2, "domain": false, "title": null}},
      "y": {"field": "a", "type": "quantitative", "axis": {"orient": "left", "values": [0.5,1,1.5,2,3,3.5,4,4.5,5.5,6,6.5,7,8,8.5,9,9.5,10.5,11,11.5,12,13,13.5,14,14.5,15.5,16,16.5,17,18,18.5,19,19.5], "labels": false, "tickSize": 2, "domain": false, "title": null}}}},
    {"data": {"values": [{"t":13.3,"a":0.08,"t2":14.15,"a2":0.12}]},
     "mark": {"type": "rule", "color": "#222", "strokeWidth": 1},
     "encoding": {"x": {"field": "t", "type": "quantitative", "axis": null}, "y": {"field": "a", "type": "quantitative", "axis": null}, "x2": {"field": "t2"}, "y2": {"field": "a2"}}},
    {"data": {"values": [{"t": 13.656, "a": 2.3, "txt": "13.656"}]},
     "mark": {"type": "text", "angle": 270, "align": "left", "baseline": "middle", "font": "Liberation Sans", "fontSize": 9, "color": "#222"},
     "encoding": {"x": {"field": "t", "type": "quantitative", "axis": null}, "y": {"field": "a", "type": "quantitative", "axis": null}, "text": {"field": "txt"}}},
    {"data": {"values": [{"t": 12.88, "a": 12.92, "txt": "Kidney"}]},
     "mark": {"type": "text", "font": "Liberation Serif", "fontSize": 17, "color": "#111"},
     "encoding": {"x": {"field": "t", "type": "quantitative", "axis": null}, "y": {"field": "a", "type": "quantitative", "axis": null}, "text": {"field": "txt"}}}
   ]},
  {"width": 1, "height": 41.4, "data": {"values": [{"k": 0}]}, "mark": {"type": "point", "opacity": 0}, "encoding": {}},
  {"width": 578, "height": 336.8, "data": {"name": "s"},
   "resolve": {"axis": {"x": "independent", "y": "independent"}},
   "layer": [
    {"mark": {"type": "line", "clip": true, "color": "#222", "strokeWidth": 1},
     "encoding": {
      "x": {"field": "t", "type": "quantitative", "scale": {"domain": [0, 20], "nice": false, "zero": false}, "axis": {"orient": "bottom", "values": [0,2.5,5,7.5,10,12.5,15,17.5], "format": ".3~g", "tickSize": 4, "title": "min", "titleX": 572, "titleY": 9, "titleAlign": "center", "titleBaseline": "middle"}},
      "y": {"field": "a", "type": "quantitative", "scale": {"domain": [-0.5, 20], "nice": false, "zero": false}, "axis": {"orient": "left", "values": [0,2.5,5,7.5,10,12.5,15,17.5], "format": ".3~g", "tickSize": 4, "title": "mAU", "titleAngle": 0, "titleX": -25.5, "titleY": 4, "titleAlign": "left", "titleBaseline": "middle"}}}},
    {"mark": {"type": "point", "opacity": 0, "clip": true},
     "encoding": {
      "x": {"field": "t", "type": "quantitative", "axis": {"orient": "bottom", "values": [0.5,1,1.5,2,3,3.5,4,4.5,5.5,6,6.5,7,8,8.5,9,9.5,10.5,11,11.5,12,13,13.5,14,14.5,15.5,16,16.5,17,18,18.5,19,19.5], "labels": false, "tickSize": 2, "domain": false, "title": null}},
      "y": {"field": "a", "type": "quantitative", "axis": {"orient": "left", "values": [0.5,1,1.5,2,3,3.5,4,4.5,5.5,6,6.5,7,8,8.5,9,9.5,10.5,11,11.5,12,13,13.5,14,14.5,15.5,16,16.5,17,18,18.5,19,19.5], "labels": false, "tickSize": 2, "domain": false, "title": null}}}},
    {"data": {"values": [{"t":12.95,"a":0.24,"t2":13.75,"a2":0.24}]},
     "mark": {"type": "rule", "color": "#222", "strokeWidth": 1},
     "encoding": {"x": {"field": "t", "type": "quantitative", "axis": null}, "y": {"field": "a", "type": "quantitative", "axis": null}, "x2": {"field": "t2"}, "y2": {"field": "a2"}}},
    {"data": {"values": [{"t": 13.315, "a": 2.5, "txt": "13.315"}]},
     "mark": {"type": "text", "angle": 270, "align": "left", "baseline": "middle", "font": "Liberation Sans", "fontSize": 9, "color": "#222"},
     "encoding": {"x": {"field": "t", "type": "quantitative", "axis": null}, "y": {"field": "a", "type": "quantitative", "axis": null}, "text": {"field": "txt"}}},
    {"data": {"values": [{"t": 11.99, "a": 13.77, "txt": "Skin with fat"}]},
     "mark": {"type": "text", "font": "Liberation Serif", "fontSize": 17, "color": "#111"},
     "encoding": {"x": {"field": "t", "type": "quantitative", "axis": null}, "y": {"field": "a", "type": "quantitative", "axis": null}, "text": {"field": "txt"}}}
   ]}
 ], "spacing": 0, "bounds": "flush"}
],
"spacing": 38.8
}
